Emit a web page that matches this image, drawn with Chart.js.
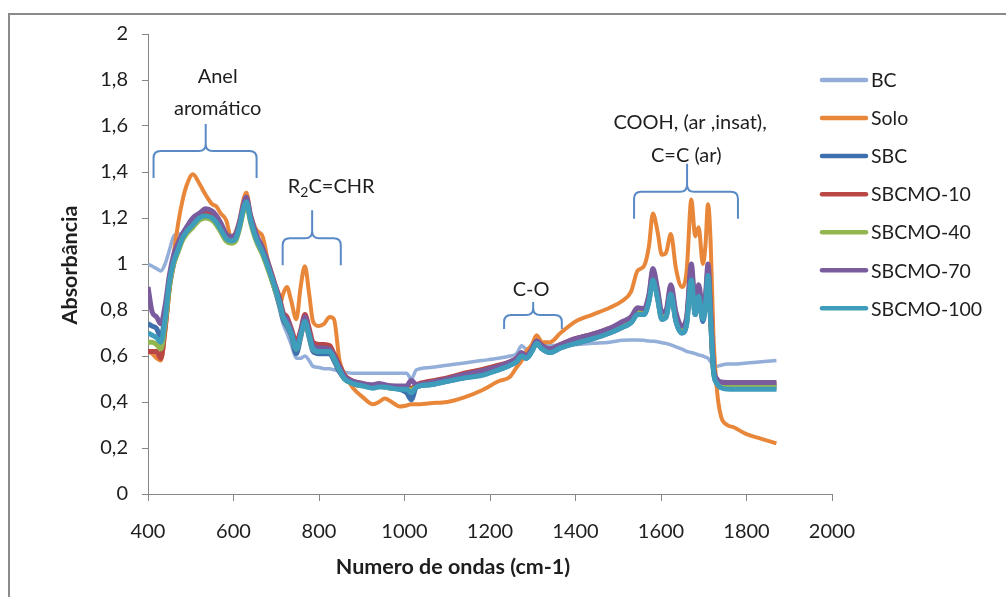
<!DOCTYPE html>
<html>
<head>
<meta charset="utf-8">
<script src="https://cdn.jsdelivr.net/npm/chart.js@4.4.1/dist/chart.umd.min.js"></script>
<style>
  html, body { margin: 0; padding: 0; background: #fff; }
  canvas { display: block; }
</style>
</head>
<body>
<canvas id="ftirChart" width="1006" height="597"></canvas>
<script>
// número de onda (cm-1)
const wavenumbers = [
  400,410,420,430,440,450,460,470,480,490,
  505,520,535,550,560,570,583,595,605,615,
  622,630,640,653,668,680,695,708,716,725,
  735,747,757,767,777,786,800,812,825,835,
  848,860,880,903,926,940,954,970,989,1005,
  1016,1028,1060,1100,1140,1180,1220,1247,1262,1274,
  1285,1298,1309,1322,1340,1365,1400,1440,1480,1510,
  1530,1545,1560,1572,1581,1592,1602,1612,1623,1635,
  1649,1660,1671,1680,1688,1698,1704,1710,1716,1723,
  1731,1740,1755,1770,1800,1835,1870
];

const bc = [
  1.00,0.99,0.98,0.97,1.00,1.06,1.12,1.13,1.13,1.15,
  1.18,1.20,1.22,1.21,1.19,1.16,1.11,1.10,1.11,1.17,
  1.23,1.27,1.19,1.11,1.05,0.98,0.89,0.80,0.74,0.70,
  0.65,0.59,0.59,0.60,0.58,0.555,0.55,0.545,0.545,0.54,
  0.535,0.53,0.525,0.525,0.525,0.525,0.525,0.525,0.525,0.525,
  0.50,0.54,0.55,0.56,0.57,0.58,0.59,0.60,0.61,0.645,
  0.63,0.64,0.65,0.645,0.645,0.648,0.65,0.655,0.66,0.668,
  0.67,0.67,0.668,0.665,0.664,0.662,0.658,0.655,0.648,0.64,
  0.63,0.62,0.615,0.61,0.605,0.60,0.595,0.59,0.575,0.56,
  0.555,0.56,0.565,0.565,0.57,0.575,0.58
];

const solo = [
  0.62,0.61,0.59,0.58,0.70,0.88,1.04,1.17,1.27,1.34,
  1.39,1.35,1.30,1.26,1.25,1.22,1.19,1.11,1.14,1.20,
  1.27,1.31,1.22,1.15,1.12,1.02,0.93,0.82,0.87,0.90,
  0.84,0.76,0.90,0.99,0.87,0.75,0.73,0.74,0.77,0.76,
  0.58,0.52,0.46,0.42,0.39,0.40,0.415,0.40,0.38,0.385,
  0.39,0.39,0.395,0.40,0.42,0.45,0.49,0.51,0.55,0.58,
  0.62,0.65,0.69,0.66,0.66,0.70,0.75,0.78,0.81,0.84,
  0.88,0.97,0.99,1.08,1.22,1.14,1.04,1.05,1.13,0.98,
  0.90,0.97,1.28,1.12,1.16,1.00,1.08,1.26,1.10,0.67,
  0.45,0.34,0.30,0.29,0.26,0.24,0.22
];

const sbc = [
  0.74,0.73,0.72,0.68,0.78,0.93,1.02,1.07,1.12,1.15,
  1.18,1.21,1.22,1.21,1.19,1.16,1.11,1.10,1.11,1.17,
  1.23,1.28,1.19,1.11,1.05,0.99,0.90,0.82,0.76,0.73,
  0.69,0.61,0.68,0.75,0.68,0.62,0.61,0.61,0.61,0.58,
  0.53,0.50,0.48,0.47,0.465,0.47,0.465,0.46,0.455,0.44,
  0.41,0.465,0.475,0.49,0.505,0.52,0.54,0.56,0.575,0.60,
  0.59,0.62,0.655,0.63,0.615,0.635,0.655,0.675,0.70,0.725,
  0.745,0.78,0.78,0.84,0.94,0.85,0.76,0.77,0.87,0.75,
  0.70,0.74,0.95,0.78,0.86,0.75,0.82,0.96,0.76,0.53,
  0.48,0.465,0.462,0.462,0.462,0.462,0.462
];

const sbcmo10 = [
  0.62,0.62,0.62,0.59,0.72,0.90,1.00,1.06,1.11,1.15,
  1.18,1.21,1.22,1.21,1.19,1.16,1.12,1.11,1.12,1.18,
  1.24,1.28,1.20,1.12,1.06,1.00,0.92,0.85,0.79,0.77,
  0.72,0.66,0.71,0.78,0.72,0.66,0.65,0.65,0.645,0.61,
  0.56,0.515,0.49,0.48,0.47,0.475,0.47,0.47,0.465,0.465,
  0.46,0.475,0.49,0.505,0.525,0.54,0.56,0.575,0.59,0.61,
  0.60,0.63,0.665,0.645,0.63,0.65,0.675,0.695,0.72,0.745,
  0.765,0.80,0.80,0.86,0.96,0.87,0.78,0.79,0.89,0.77,
  0.72,0.76,0.97,0.81,0.89,0.78,0.84,0.97,0.78,0.54,
  0.49,0.48,0.478,0.478,0.478,0.478,0.478
];

const sbcmo40 = [
  0.66,0.66,0.65,0.63,0.74,0.90,1.00,1.05,1.10,1.13,
  1.16,1.19,1.20,1.19,1.17,1.14,1.10,1.09,1.10,1.16,
  1.22,1.26,1.18,1.10,1.04,0.98,0.90,0.83,0.77,0.74,
  0.70,0.63,0.69,0.75,0.69,0.63,0.62,0.62,0.62,0.59,
  0.54,0.50,0.48,0.47,0.465,0.47,0.465,0.46,0.46,0.46,
  0.45,0.47,0.48,0.495,0.51,0.525,0.545,0.565,0.58,0.605,
  0.595,0.625,0.66,0.635,0.62,0.64,0.66,0.68,0.705,0.73,
  0.75,0.79,0.79,0.85,0.94,0.86,0.77,0.78,0.88,0.76,
  0.71,0.75,0.95,0.79,0.87,0.77,0.83,0.96,0.77,0.535,
  0.485,0.472,0.47,0.47,0.47,0.47,0.47
];

const sbcmo70 = [
  0.90,0.79,0.77,0.74,0.82,0.95,1.04,1.09,1.13,1.16,
  1.20,1.22,1.24,1.23,1.21,1.18,1.13,1.12,1.13,1.19,
  1.25,1.29,1.21,1.13,1.07,1.01,0.92,0.84,0.78,0.76,
  0.71,0.64,0.70,0.77,0.70,0.645,0.635,0.635,0.63,0.60,
  0.55,0.51,0.49,0.48,0.475,0.48,0.475,0.47,0.47,0.47,
  0.495,0.475,0.485,0.50,0.52,0.535,0.555,0.575,0.59,0.615,
  0.60,0.63,0.665,0.645,0.63,0.65,0.675,0.695,0.72,0.75,
  0.77,0.81,0.805,0.87,0.98,0.89,0.79,0.80,0.91,0.79,
  0.73,0.77,1.00,0.82,0.91,0.80,0.86,1.00,0.80,0.55,
  0.50,0.487,0.485,0.485,0.485,0.485,0.485
];

const sbcmo100 = [
  0.70,0.69,0.68,0.66,0.76,0.92,1.01,1.06,1.11,1.14,
  1.17,1.20,1.21,1.20,1.18,1.15,1.11,1.10,1.11,1.17,
  1.23,1.27,1.19,1.11,1.05,0.99,0.91,0.83,0.77,0.74,
  0.70,0.63,0.69,0.75,0.69,0.63,0.62,0.62,0.62,0.59,
  0.54,0.50,0.48,0.47,0.46,0.465,0.465,0.46,0.455,0.455,
  0.44,0.465,0.475,0.49,0.505,0.515,0.54,0.56,0.575,0.60,
  0.59,0.62,0.655,0.63,0.615,0.635,0.655,0.675,0.70,0.725,
  0.745,0.78,0.78,0.84,0.93,0.85,0.76,0.77,0.87,0.75,
  0.70,0.74,0.93,0.78,0.86,0.76,0.82,0.95,0.76,0.53,
  0.48,0.462,0.456,0.455,0.455,0.455,0.455
];

const seriesNames = ['BC', 'Solo', 'SBC', 'SBCMO-10', 'SBCMO-40', 'SBCMO-70', 'SBCMO-100'];
const seriesValues = [bc, solo, sbc, sbcmo10, sbcmo40, sbcmo70, sbcmo100];
const seriesColors = ['#93AED8', '#E8873A', '#3F70AE', '#B84745', '#93B550', '#7A5C9E', '#3D9DBA'];
const seriesWidths = [3.5, 4, 5, 5, 5, 5, 5];

const FONT = 'Lato, "Open Sans", sans-serif';
const TEXT = '#1e1e1e';
const AXIS = '#868686';
const BRACE = '#5A8AC6';

// chaves e rótulos das bandas (em unidades dos eixos)
const braces = [
  { from: 413, to: 654, tip: 535, y: 1.491, arm: 27, up: 27 },
  { from: 715, to: 851, tip: 784, y: 1.112, arm: 27, up: 28 },
  { from: 1233, to: 1368, tip: 1301, y: 0.778, arm: 14, up: 13 },
  { from: 1537, to: 1780, tip: 1661, y: 1.314, arm: 27, up: 28 }
];
const bandLabels = [
  { text: 'Anel', x: 563, y: 1.817 },
  { text: 'aromático', x: 563, y: 1.674 },
  { text: 'C-O', x: 1296, y: 0.887 },
  { text: 'COOH, (ar ,insat),', x: 1668, y: 1.613 },
  { text: 'C=C (ar)', x: 1659, y: 1.470 }
];

// ordem invertida: o último da legenda fica desenhado por cima
const datasets = seriesNames.map((name, i) => ({
  label: name,
  data: wavenumbers.map((w, k) => ({ x: w, y: seriesValues[i][k] })),
  borderColor: seriesColors[i],
  backgroundColor: seriesColors[i],
  borderWidth: seriesWidths[i],
  pointRadius: 0,
  fill: false,
  cubicInterpolationMode: 'monotone'
})).reverse();

function drawBrace(ctx, x0, x1, xt, yl, arm, up) {
  const r = 7;
  ctx.beginPath();
  ctx.moveTo(x0, yl + arm);
  ctx.lineTo(x0, yl + r);
  ctx.quadraticCurveTo(x0, yl, x0 + r, yl);
  ctx.lineTo(xt - r, yl);
  ctx.quadraticCurveTo(xt, yl, xt, yl - r);
  ctx.lineTo(xt, yl - up);
  ctx.moveTo(xt, yl - r);
  ctx.quadraticCurveTo(xt, yl, xt + r, yl);
  ctx.lineTo(x1 - r, yl);
  ctx.quadraticCurveTo(x1, yl, x1, yl + r);
  ctx.lineTo(x1, yl + arm);
  ctx.stroke();
}

const decorPlugin = {
  id: 'decor',
  beforeDraw(chart) {
    const ctx = chart.ctx;
    ctx.save();
    ctx.fillStyle = '#fff';
    ctx.fillRect(0, 0, chart.width, chart.height);
    // moldura do gráfico (só topo e esquerda aparecem)
    ctx.strokeStyle = '#8a8a8a';
    ctx.lineWidth = 2;
    ctx.beginPath();
    ctx.moveTo(9, chart.height);
    ctx.lineTo(9, 14);
    ctx.lineTo(chart.width, 14);
    ctx.stroke();
    ctx.restore();
  },
  afterDraw(chart) {
    const ctx = chart.ctx;
    const xs = chart.scales.x, ys = chart.scales.y;
    ctx.save();

    // chaves
    ctx.strokeStyle = BRACE;
    ctx.lineWidth = 2;
    braces.forEach(b => {
      drawBrace(ctx, xs.getPixelForValue(b.from), xs.getPixelForValue(b.to),
        xs.getPixelForValue(b.tip), ys.getPixelForValue(b.y), b.arm, b.up);
    });

    // rótulos das bandas
    ctx.fillStyle = TEXT;
    ctx.font = '20px ' + FONT;
    ctx.textAlign = 'center';
    ctx.textBaseline = 'middle';
    bandLabels.forEach(l => {
      ctx.fillText(l.text, xs.getPixelForValue(l.x), ys.getPixelForValue(l.y));
    });

    // R2C=CHR com índice
    const rx = xs.getPixelForValue(727), ry = ys.getPixelForValue(1.335);
    ctx.textAlign = 'left';
    ctx.fillText('R', rx, ry);
    let cx = rx + ctx.measureText('R').width;
    ctx.font = '14px ' + FONT;
    ctx.fillText('2', cx, ry + 6);
    cx += ctx.measureText('2').width;
    ctx.font = '20px ' + FONT;
    ctx.fillText('C=CHR', cx, ry);

    // legenda
    ctx.font = '19.5px ' + FONT;
    ctx.textAlign = 'left';
    seriesNames.forEach((name, i) => {
      const y = 80 + i * 38.05;
      ctx.strokeStyle = seriesColors[i];
      ctx.lineWidth = 4.5;
      ctx.lineCap = 'round';
      ctx.beginPath();
      ctx.moveTo(822, y);
      ctx.lineTo(866, y);
      ctx.stroke();
      ctx.fillText(name, 871, y + 1);
    });

    // títulos dos eixos
    ctx.font = 'bold 21.5px ' + FONT;
    ctx.textAlign = 'center';
    ctx.fillText('Numero de ondas (cm-1)', 453, 567);
    ctx.translate(70, 265);
    ctx.rotate(-Math.PI / 2);
    ctx.fillText('Absorbância', 0, 0);
    ctx.restore();
  }
};

new Chart(document.getElementById('ftirChart'), {
  type: 'line',
  data: { datasets },
  plugins: [decorPlugin],
  options: {
    responsive: false,
    animation: false,
    layout: { padding: { left: 0, right: 174, top: 34, bottom: 0 } },
    plugins: { legend: { display: false }, tooltip: { enabled: false } },
    scales: {
      x: {
        type: 'linear',
        min: 400,
        max: 2000,
        afterFit: s => { s.height = 103; },
        ticks: {
          stepSize: 200,
          color: TEXT,
          font: { family: FONT, size: 20 },
          padding: 19,
          maxRotation: 0,
          autoSkip: false,
          callback: v => String(v)
        },
        grid: { drawOnChartArea: false, drawTicks: true, tickLength: 7, color: AXIS },
        border: { color: AXIS, width: 1 }
      },
      y: {
        min: 0,
        max: 2,
        afterFit: s => { s.width = 148; },
        ticks: {
          stepSize: 0.2,
          color: TEXT,
          font: { family: FONT, size: 20 },
          padding: 14,
          callback: v => String(Math.round(v * 10) / 10).replace('.', ',')
        },
        grid: { drawOnChartArea: false, drawTicks: true, tickLength: 6, color: AXIS },
        border: { color: AXIS, width: 1 }
      }
    }
  }
});
</script>
</body>
</html>
